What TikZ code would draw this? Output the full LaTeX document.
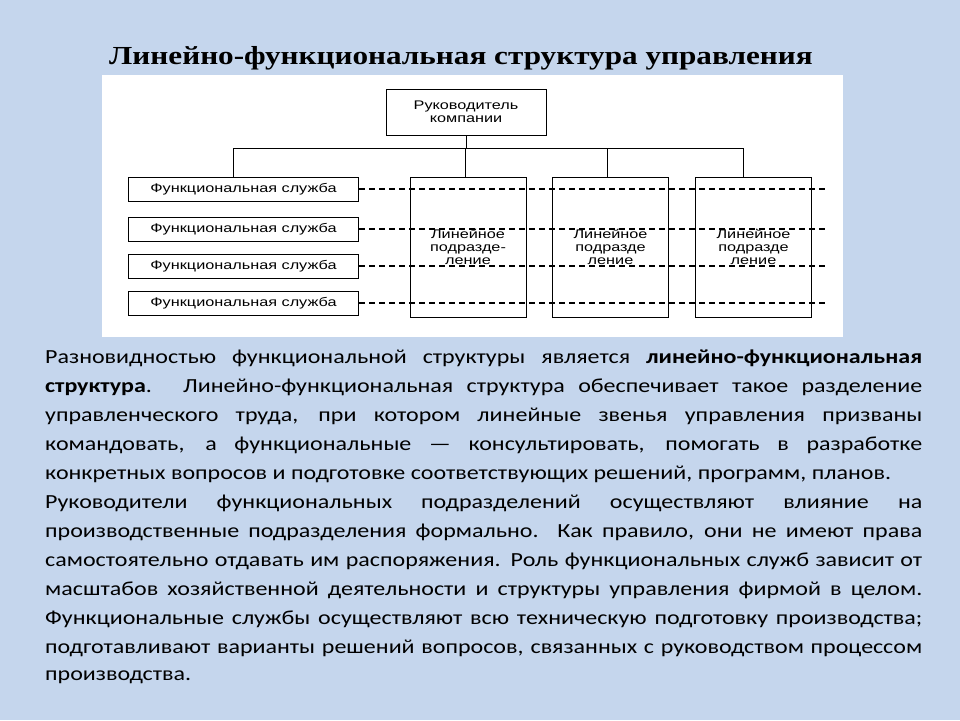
\documentclass[tikz,border=0pt]{standalone}
\usepackage{fontspec}
\setmainfont{Carlito}[FakeStretch=1.2]
\newfontfamily\ttl{Liberation Serif}[FakeStretch=1.2]
\newfontfamily\dia{Liberation Sans}[FakeStretch=1.3]
\begin{document}
\begin{tikzpicture}[x=1pt,y=-1pt,
  bx/.style={draw,line width=1pt,fill=white,inner sep=0pt,font=\dia\fontsize{12.5}{13}\selectfont},
  ln/.style={line width=1pt},
  dl/.style={line width=1.3pt,dash pattern=on 6pt off 4pt},
  tl/.style={anchor=west,inner sep=0pt,font=\fontsize{20}{22}\selectfont}]
\useasboundingbox (0,0) rectangle (960,720);
\fill[fill={rgb,255:red,197;green,214;blue,237}] (0,0) rectangle (960,720);
\fill[white] (102,75) rectangle (843,337);
\node[font=\ttl\bfseries\fontsize{26}{30}\selectfont] (t) at (461,58) {Линейно-функциональная структура управления};
% boxes
\node[bx,minimum width=160pt,minimum height=46pt,align=center] (top) at (466,112) {Руководитель\\компании};
\foreach \i/\y in {1/189,2/229,3/266,4/303}{
  \node[bx,minimum width=230pt,minimum height=24pt,anchor=west,align=center] (f\i) at (128,\y) {Функциональная служба};}
\foreach \i/\x/\h in {1/468/подразде-,2/610.5/подразде,3/753.5/подразде}{
  \node[bx,minimum width=116pt,minimum height=140pt,align=center] (l\i) at (\x,247) {Линейное\\\h\\ление};}
\coordinate (bus) at (466,148);
\draw[ln] (top.south) -- (bus);
\draw[ln] (f1.north -| 233,0) -- (233,148) -- (743,148) -- (l3.north -| 743,0);
\draw[ln] (l1.north -| 465,0) -- (465,148);
\draw[ln] (l2.north -| 607,0) -- (607,148);
\foreach \i in {1,...,4}{ \coordinate (e\i) at (825,0 |- f\i.east); \draw[dl] (f\i.east) -- (e\i);}
% body text
\foreach \n/\t in {0/{Разновидностью функциональной структуры является \textbf{линейно-функциональная}},
1/{\textbf{структура}. Линейно-функциональная структура обеспечивает такое разделение},
2/{управленческого труда, при котором линейные звенья управления призваны},
3/{командовать, а функциональные — консультировать, помогать в разработке},
5/{Руководители функциональных подразделений осуществляют влияние на},
6/{производственные подразделения формально. Как правило, они не имеют права},
7/{самостоятельно отдавать им распоряжения. Роль функциональных служб зависит от},
8/{масштабов хозяйственной деятельности и структуры управления фирмой в целом.},
9/{Функциональные службы осуществляют всю техническую подготовку производства;},
10/{подготавливают варианты решений вопросов, связанных с руководством процессом}}{
  \node[tl] (p\n) at (45,358+29*\n) {\makebox[877pt][s]{\t}};}
\node[tl] (p4) at (45,474) {конкретных вопросов и подготовке соответствующих решений, программ, планов.};
\node[tl] (p11) at (45,677) {производства.};
\end{tikzpicture}
\end{document}
